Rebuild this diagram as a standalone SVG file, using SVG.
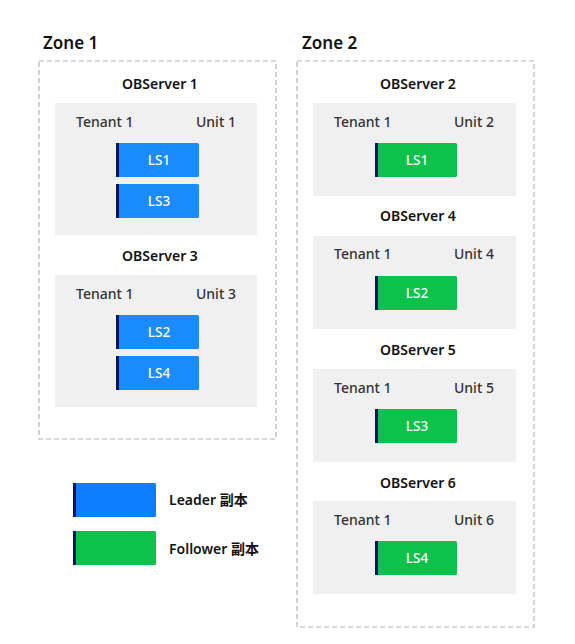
<svg xmlns="http://www.w3.org/2000/svg" width="575" height="644" viewBox="0 0 575 644">
<style>
.zone{fill:none;stroke:#b3b3b3;stroke-width:1.2;stroke-dasharray:5 3}
.zt{font-family:"Noto Sans","Noto Sans CJK SC",sans-serif;font-size:17px;font-weight:600;fill:#111}
.st{font-family:"Noto Sans","Noto Sans CJK SC",sans-serif;font-size:14px;font-weight:600;fill:#111;text-anchor:middle}
.srv{fill:#f0f0f0}
.lt{font-family:"Noto Sans","Noto Sans CJK SC",sans-serif;font-size:14px;font-weight:500;fill:#333}
.ls{font-family:"Noto Sans","Noto Sans CJK SC",sans-serif;font-size:13.5px;font-weight:500;fill:#fff;text-anchor:middle}
.lead{fill:#1a8cff}
.fol{fill:#0cc24a}
.strip{fill:#0b1660}
.lg{font-family:"Noto Sans","Noto Sans CJK SC",sans-serif;font-size:14px;font-weight:600;fill:#111}
</style>
<rect width="575" height="644" fill="#fff"/>
<g id="zone1">
<text class="zt" x="43" y="49">Zone 1</text>
<rect class="zone" x="39" y="61" width="237" height="378"/>
</g>
<g id="zone2">
<text class="zt" x="302" y="49">Zone 2</text>
<rect class="zone" x="297" y="61" width="237" height="566"/>
</g>
<g id="observer1">
<text class="st" x="160" y="89">OBServer 1</text>
<rect class="srv" x="55" y="103" width="202" height="132"/>
<text class="lt" x="76" y="127">Tenant 1</text>
<text class="lt" x="196" y="127">Unit 1</text>
<rect class="lead" x="116" y="143" width="83" height="34" rx="1.5"/><rect class="strip" x="116" y="143" width="3" height="34"/>
<text class="ls" x="159" y="165">LS1</text>
<rect class="lead" x="116" y="184" width="83" height="34" rx="1.5"/><rect class="strip" x="116" y="184" width="3" height="34"/>
<text class="ls" x="159" y="206">LS3</text>
</g>
<g id="observer3">
<text class="st" x="160" y="261">OBServer 3</text>
<rect class="srv" x="55" y="275" width="202" height="132"/>
<text class="lt" x="76" y="299">Tenant 1</text>
<text class="lt" x="196" y="299">Unit 3</text>
<rect class="lead" x="116" y="315" width="83" height="34" rx="1.5"/><rect class="strip" x="116" y="315" width="3" height="34"/>
<text class="ls" x="159" y="337">LS2</text>
<rect class="lead" x="116" y="356" width="83" height="34" rx="1.5"/><rect class="strip" x="116" y="356" width="3" height="34"/>
<text class="ls" x="159" y="378">LS4</text>
</g>
<g id="observer2">
<text class="st" x="418" y="89">OBServer 2</text>
<rect class="srv" x="313" y="103" width="203" height="93"/>
<text class="lt" x="334" y="127">Tenant 1</text>
<text class="lt" x="454" y="127">Unit 2</text>
<rect class="fol" x="375" y="143" width="82" height="34" rx="1.5"/><rect class="strip" x="375" y="143" width="3" height="34"/>
<text class="ls" x="417" y="165">LS1</text>
</g>
<g id="observer4">
<text class="st" x="418" y="221">OBServer 4</text>
<rect class="srv" x="313" y="236" width="203" height="93"/>
<text class="lt" x="334" y="259">Tenant 1</text>
<text class="lt" x="454" y="259">Unit 4</text>
<rect class="fol" x="375" y="276" width="82" height="34" rx="1.5"/><rect class="strip" x="375" y="276" width="3" height="34"/>
<text class="ls" x="417" y="298">LS2</text>
</g>
<g id="observer5">
<text class="st" x="418" y="355">OBServer 5</text>
<rect class="srv" x="313" y="369" width="203" height="93"/>
<text class="lt" x="334" y="393">Tenant 1</text>
<text class="lt" x="454" y="393">Unit 5</text>
<rect class="fol" x="375" y="409" width="82" height="34" rx="1.5"/><rect class="strip" x="375" y="409" width="3" height="34"/>
<text class="ls" x="417" y="431">LS3</text>
</g>
<g id="observer6">
<text class="st" x="418" y="488">OBServer 6</text>
<rect class="srv" x="313" y="501" width="203" height="93"/>
<text class="lt" x="334" y="525">Tenant 1</text>
<text class="lt" x="454" y="525">Unit 6</text>
<rect class="fol" x="375" y="541" width="82" height="34" rx="1.5"/><rect class="strip" x="375" y="541" width="3" height="34"/>
<text class="ls" x="417" y="563">LS4</text>
</g>
<g id="legend">
<rect x="73" y="483" width="83" height="34" rx="1.5" fill="#0a7fff"/><rect class="strip" x="73" y="483" width="3" height="34"/>
<text class="lg" x="169" y="505">Leader 副本</text>
<rect class="fol" x="73" y="531" width="83" height="34" rx="1.5"/><rect class="strip" x="73" y="531" width="3" height="34"/>
<text class="lg" x="169" y="554">Follower 副本</text>
</g>
<g id="connectors"></g>
</svg>
